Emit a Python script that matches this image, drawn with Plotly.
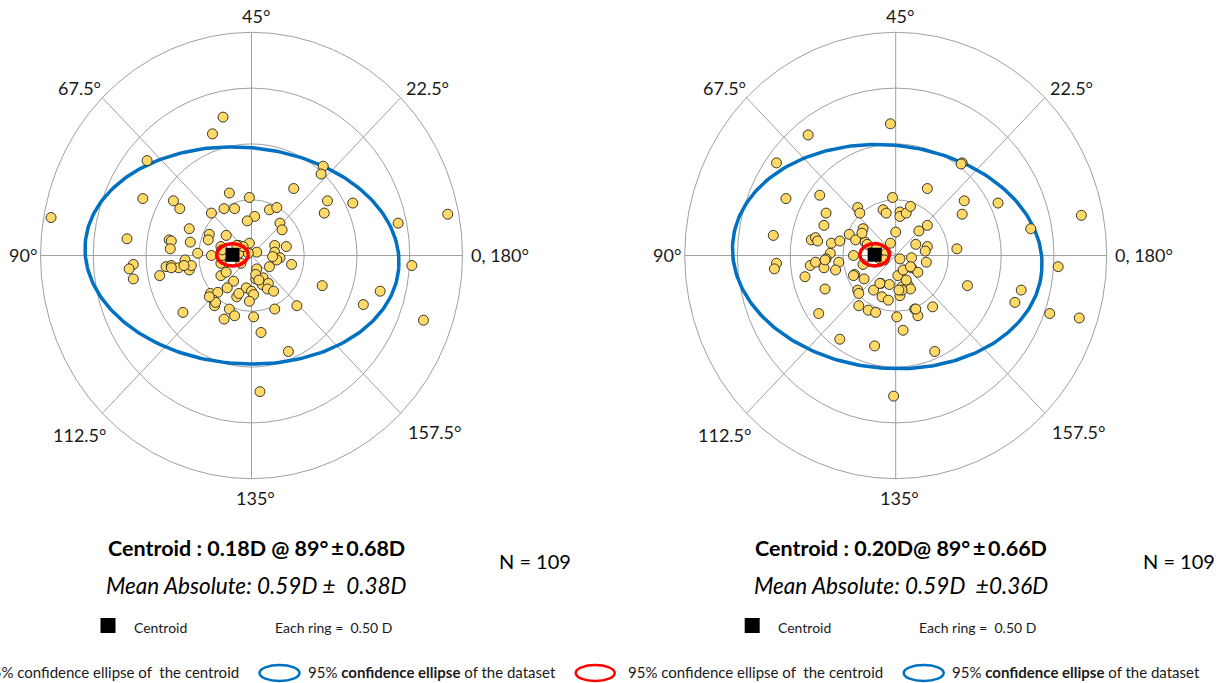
import numpy as np
import plotly.graph_objects as go

# ---------------------------------------------------------------------------
# Double-angle astigmatism vectors (dioptres): X = M*cos(2*axis), Y = M*sin(2*axis)
# ---------------------------------------------------------------------------
left_x = [-0.27, -0.37, -0.99, 0.68, 0.66, 0.40, -1.03, -0.74, -0.68, -0.21,
          -0.02, 0.72, 0.96, 0.69, -1.90, 1.86, 1.39, -0.26, -0.16, 0.17,
          0.24, -0.38, 0.03, -0.04, 0.27, 0.29, -0.59, -1.18, -0.78, -0.76,
          -0.77, -0.58, -0.40, -0.41, -0.24, -0.29, -0.12, -0.02, 0.05, 0.22,
          0.33, 0.22, 0.27, 0.24, 0.38, 0.17, -0.51, -0.38, -0.29, 1.52,
          -1.12, -1.16, -1.12, -0.87, -0.81, -0.76, -0.69, -0.63, -0.59, -0.57,
          -0.29, -0.24, -0.17, 0.05, 0.04, 0.11, 0.10, 0.16, 0.15, 0.21,
          0.67, 1.22, -0.23, -0.39, -0.32, -0.36, -0.35, -0.14, -0.05, 0.00,
          0.02, -0.02, -0.65, -0.21, -0.16, -0.26, 0.02, 0.22, 0.43, 1.06,
          1.63, 0.09, 0.35, 0.08, -0.12, -0.03, -0.28, -0.10, 0.04, -0.64,
          -0.76, -0.34, -0.28, 0.20, -0.12, -0.08, -0.14, 0.07, -0.40]
left_y = [1.24, 1.09, 0.85, 0.80, 0.73, 0.60, 0.51, 0.49, 0.42, 0.56,
          0.52, 0.49, 0.47, 0.38, 0.34, 0.37, 0.29, 0.42, 0.42, 0.41,
          0.43, 0.38, 0.35, 0.31, 0.29, 0.23, 0.24, 0.15, 0.14, 0.13,
          0.06, 0.12, 0.19, 0.14, 0.18, 0.08, 0.09, 0.11, 0.03, 0.09,
          0.08, 0.03, -0.02, -0.04, -0.08, -0.10, 0.02, 0.00, -0.07, -0.09,
          -0.08, -0.12, -0.21, -0.18, -0.10, -0.09, -0.11, -0.04, -0.13, -0.09,
          -0.18, -0.15, -0.23, -0.12, -0.21, -0.20, -0.26, -0.25, -0.30, -0.32,
          -0.27, -0.32, -0.29, -0.34, -0.33, -0.40, -0.45, -0.37, -0.29, -0.32,
          -0.35, -0.41, -0.51, -0.48, -0.54, -0.57, -0.55, -0.48, -0.45, -0.44,
          -0.58, -0.69, -0.86, -1.22, 0.02, 0.02, 0.00, -0.07, -0.17, -0.09,
          -0.11, -0.42, 0.05, -0.01, -0.34, 0.08, 0.09, -0.22, -0.37]

right_x = [-0.05, -0.83, -1.13, 0.63, 0.62, 0.30, -1.04, -0.72, 0.65, 0.97,
           0.63, 1.76, 1.28, -0.03, -0.36, -0.34, -0.12, -0.09, 0.04, 0.04,
           0.10, 0.14, -0.66, -0.68, -0.31, 0.00, 0.22, 0.30, -1.16, -0.80,
           -0.76, -0.74, -0.61, -0.53, -0.44, -0.38, -0.29, -0.18, -0.05, 0.19,
           0.30, 0.28, 0.58, -0.62, -0.54, -0.40, -0.31, -0.15, 0.04, 0.15,
           0.15, 0.21, 0.29, -1.13, -1.15, -0.86, -0.81, -0.76, -0.66, -0.68,
           -0.57, -0.39, -0.30, 0.02, 0.07, 1.54, -0.67, -0.36, -0.35, -0.21,
           -0.14, -0.06, -0.13, -0.07, 0.04, 0.06, 0.12, 0.14, 0.68, 1.19,
           1.13, -0.73, -0.35, -0.26, -0.19, 0.01, 0.18, 0.21, 0.35, 1.46,
           1.74, 0.07, -0.53, -0.20, 0.37, -0.02, -0.09, -0.15, 0.06, 0.10,
           -0.27, -0.11, 0.03, 0.14, -0.32, -0.15, -0.40, -0.67, 0.19]
right_y = [1.18, 1.08, 0.83, 0.83, 0.82, 0.60, 0.51, 0.54, 0.49, 0.47,
           0.37, 0.36, 0.24, 0.52, 0.43, 0.38, 0.41, 0.38, 0.39, 0.35,
           0.38, 0.44, 0.38, 0.27, 0.24, 0.21, 0.22, 0.27, 0.18, 0.14,
           0.16, 0.13, 0.11, 0.13, 0.19, 0.14, 0.12, 0.07, 0.11, 0.10,
           0.08, 0.04, 0.06, 0.02, -0.06, 0.00, -0.08, -0.01, -0.03, -0.02,
           -0.11, -0.15, -0.06, -0.07, -0.12, -0.19, -0.09, -0.06, -0.03, -0.11,
           -0.13, -0.17, -0.21, -0.18, -0.13, -0.10, -0.30, -0.31, -0.34, -0.31,
           -0.25, -0.26, -0.37, -0.40, -0.36, -0.28, -0.27, -0.30, -0.27, -0.31,
           -0.42, -0.52, -0.45, -0.49, -0.51, -0.55, -0.48, -0.54, -0.46, -0.52,
           -0.56, -0.67, -0.75, -0.81, -0.86, -1.26, 0.02, -0.03, -0.31, -0.22,
           0.10, -0.04, -0.31, -0.10, 0.20, -0.25, -0.18, -0.04, -0.48]

# Centroid (magnitude D, axis deg) and its SD
left_centroid = (0.18, 89, 0.68)
right_centroid = (0.20, 89, 0.66)
left_mean_abs = (0.59, 0.38)
right_mean_abs = (0.59, 0.36)
n_eyes = 109

# 95 % ellipse of the dataset: centre x, centre y, semi-axis x, semi-axis y, tilt (deg)
left_data_ellipse = (-0.09, 0.00, 1.49, 0.97, -4)
right_data_ellipse = (-0.08, -0.01, 1.47, 1.00, -5)
# 95 % ellipse of the centroid: semi-axis x, semi-axis y
left_centroid_ellipse = (0.15, 0.10)
right_centroid_ellipse = (0.14, 0.10)

ring_step = 0.5
ring_count = 4
spoke_angles = [0, 45, 90, 135, 180, 225, 270, 315]
angle_labels = ["0, 180°", "22.5°", "45°", "67.5°", "90°", "112.5°", "135°", "157.5°"]

# ---------------------------------------------------------------------------
# Page geometry
# ---------------------------------------------------------------------------
W, H = 1222, 683
SX, SY = 105.5, 111.6          # pixels per dioptre (x, y)
CY = 255.5                     # plot centre, px from top
FONT = "Lato, 'Open Sans', sans-serif"
TXT = "#1a1a1a"
GRID = "#a0a0a0"
BLUE = "#0070c0"
RED = "#ff0000"
GOLD = "#ffd966"

panels = [
    dict(cx=251.5, x0=0, x1=611, xs=left_x, ys=left_y, cen=left_centroid,
         mabs=left_mean_abs, de=left_data_ellipse, ce=left_centroid_ellipse,
         xa="x", ya="y"),
    dict(cx=895.7, x0=611, x1=1222, xs=right_x, ys=right_y, cen=right_centroid,
         mabs=right_mean_abs, de=right_data_ellipse, ce=right_centroid_ellipse,
         xa="x2", ya="y2"),
]


def ellipse(cx, cy, a, b, tilt, n=240):
    t = np.linspace(0, 2 * np.pi, n)
    p = np.radians(tilt)
    x = cx + a * np.cos(t) * np.cos(p) - b * np.sin(t) * np.sin(p)
    y = cy + a * np.cos(t) * np.sin(p) + b * np.sin(t) * np.cos(p)
    return x, y


def px(x):
    return x / W


def py(y):
    return 1 - y / H


fig = go.Figure()
shapes = []
annotations = []

# label placement around the outer ring: (xanchor, yanchor, xshift, yshift)
label_pos = [("left", "middle", 6, 1), ("left", "bottom", 3, -3),
             ("center", "bottom", 4, 3), ("right", "bottom", 1, -3),
             ("right", "middle", -2, 1), ("right", "top", 6, -9),
             ("center", "top", 4, -6), ("left", "top", 5, -6)]

r_max = ring_step * ring_count

for i, pn in enumerate(panels):
    sfx = "" if i == 0 else "2"
    # axes
    fig.update_layout(**{
        f"xaxis{sfx}": dict(domain=[pn["x0"] / W, pn["x1"] / W],
                            range=[(pn["x0"] - pn["cx"]) / SX, (pn["x1"] - pn["cx"]) / SX],
                            visible=False, fixedrange=True),
        f"yaxis{sfx}": dict(domain=[0, 1], range=[-(H - CY) / SY, CY / SY],
                            visible=False, fixedrange=True),
    })

    # rings
    for k in range(1, ring_count + 1):
        r = k * ring_step
        shapes.append(dict(type="circle", xref=pn["xa"], yref=pn["ya"],
                           x0=-r, x1=r, y0=-r, y1=r, layer="below",
                           line=dict(color=GRID, width=1)))
    # spokes
    for a in spoke_angles:
        shapes.append(dict(type="line", xref=pn["xa"], yref=pn["ya"], layer="below",
                           x0=0, y0=0,
                           x1=r_max * np.cos(np.radians(a)), y1=r_max * np.sin(np.radians(a)),
                           line=dict(color=GRID, width=1)))
    # angle labels
    for a, lab, (xan, yan, xs, ys) in zip(spoke_angles, angle_labels, label_pos):
        annotations.append(dict(xref=pn["xa"], yref=pn["ya"],
                                x=r_max * np.cos(np.radians(a)), y=r_max * np.sin(np.radians(a)),
                                text=lab, showarrow=False, xanchor=xan, yanchor=yan,
                                xshift=xs, yshift=ys,
                                font=dict(family=FONT, size=18, color=TXT)))

    # 95 % ellipse of the dataset
    ex, ey = ellipse(*pn["de"])
    fig.add_trace(go.Scatter(x=ex, y=ey, xaxis=pn["xa"], yaxis=pn["ya"], mode="lines",
                             line=dict(color=BLUE, width=3.5), hoverinfo="skip",
                             showlegend=False))
    # individual eyes
    fig.add_trace(go.Scatter(x=pn["xs"], y=pn["ys"], xaxis=pn["xa"], yaxis=pn["ya"],
                             mode="markers", showlegend=False,
                             marker=dict(size=10, color=GOLD,
                                         line=dict(color="#222222", width=0.9))))
    # centroid and its 95 % ellipse
    mag, axis, sd = pn["cen"]
    ccx = mag * np.cos(np.radians(2 * axis))
    ccy = mag * np.sin(np.radians(2 * axis))
    rx, ry = ellipse(ccx, ccy, pn["ce"][0], pn["ce"][1], 0)
    fig.add_trace(go.Scatter(x=rx, y=ry, xaxis=pn["xa"], yaxis=pn["ya"], mode="lines",
                             line=dict(color=RED, width=3.5), hoverinfo="skip",
                             showlegend=False))
    fig.add_trace(go.Scatter(x=[ccx], y=[ccy], xaxis=pn["xa"], yaxis=pn["ya"],
                             mode="markers", showlegend=False,
                             marker=dict(symbol="square", size=14, color="black")))

    # ---- text block under the plot ----
    c = pn["cx"]
    ma, msd = pn["mabs"]
    gap = " " if i == 0 else ""
    annotations.append(dict(xref="paper", yref="paper", x=px(c + 5), y=py(548),
                            text=f"<b>Centroid : {mag:.2f}D{gap}@ {axis}°\u2009±\u2009{sd:.2f}D</b>",
                            showarrow=False, xanchor="center", yanchor="middle",
                            font=dict(family=FONT, size=21.5, color="black")))
    mean_txt = (f"<i>Mean Absolute: {ma:.2f}D ±\u00a0 {msd:.2f}D</i>" if i == 0
                else f"<i>Mean Absolute: {ma:.2f}D\u00a0 ±{msd:.2f}D</i>")
    annotations.append(dict(xref="paper", yref="paper", x=px(c + 5), y=py(585),
                            text=mean_txt, showarrow=False, xanchor="center",
                            yanchor="middle",
                            font=dict(family=FONT, size=22.5, color="black")))
    annotations.append(dict(xref="paper", yref="paper", x=px(c + 283), y=py(561),
                            text=f"N = {n_eyes}", showarrow=False, xanchor="center",
                            yanchor="middle",
                            font=dict(family=FONT, size=20, color="black")))

    # centroid key + ring size
    shapes.append(dict(type="rect", xref="paper", yref="paper",
                       x0=px(c - 151), x1=px(c - 136), y0=py(633), y1=py(618),
                       fillcolor="black", line=dict(width=0)))
    annotations.append(dict(xref="paper", yref="paper", x=px(c - 120), y=py(627),
                            text="Centroid", showarrow=False, xanchor="left",
                            yanchor="middle",
                            font=dict(family=FONT, size=14, color=TXT)))
    annotations.append(dict(xref="paper", yref="paper", x=px(c + 21), y=py(627),
                            text=f"Each ring =\u00a0 {ring_step:.2f} D", showarrow=False,
                            xanchor="left", yanchor="middle",
                            font=dict(family=FONT, size=14, color=TXT)))

    # ellipse keys
    shapes.append(dict(type="circle", xref="paper", yref="paper",
                       x0=px(c - 320), x1=px(c - 281), y0=py(681), y1=py(665),
                       line=dict(color=RED, width=2.5)))
    annotations.append(dict(xref="paper", yref="paper", x=px(c - 270), y=py(672),
                            text="95% confidence ellipse of\u00a0 the centroid",
                            showarrow=False, xanchor="left", yanchor="middle",
                            font=dict(family=FONT, size=15, color=TXT)))
    shapes.append(dict(type="circle", xref="paper", yref="paper",
                       x0=px(c + 8), x1=px(c + 48), y0=py(681), y1=py(665),
                       line=dict(color=BLUE, width=2.5)))
    annotations.append(dict(xref="paper", yref="paper", x=px(c + 54), y=py(672),
                            text="95% <b>confidence ellipse</b> of the dataset",
                            showarrow=False, xanchor="left", yanchor="middle",
                            font=dict(family=FONT, size=15, color=TXT)))

fig.update_layout(width=W, height=H, margin=dict(l=0, r=0, t=0, b=0),
                  paper_bgcolor="white", plot_bgcolor="white",
                  showlegend=False, shapes=shapes, annotations=annotations)

fig.write_html("out.html", config={"displayModeBar": False})
